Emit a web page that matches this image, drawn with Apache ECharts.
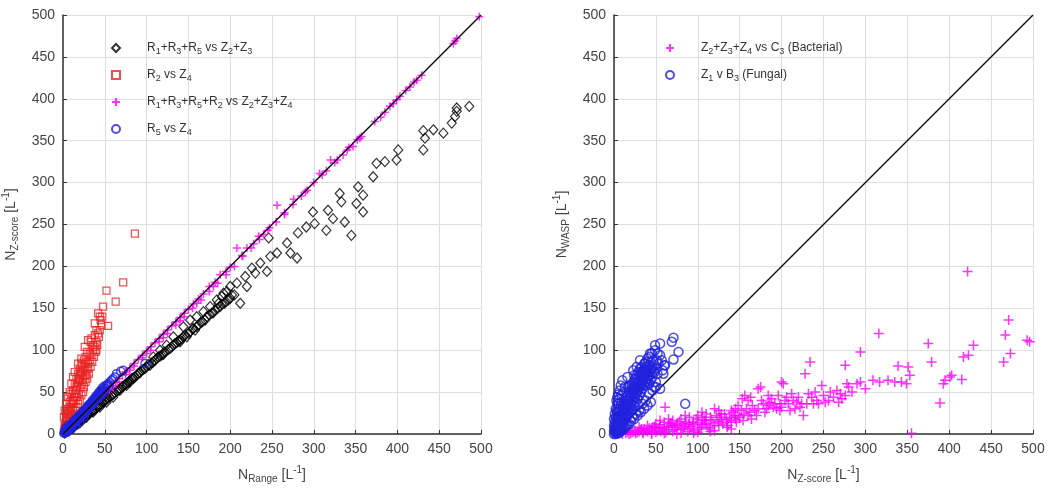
<!DOCTYPE html>
<html>
<head>
<meta charset="utf-8">
<script src="https://cdn.jsdelivr.net/npm/echarts@6/dist/echarts.min.js"></script>
<style>
  html, body { margin: 0; padding: 0; background: #fff; }
  #show { width: 1048px; height: 495px; }
</style>
</head>
<body>
<div id="show"></div>
<script>
// tick values shared by both panels
var ticks = [0, 50, 100, 150, 200, 250, 300, 350, 400, 450, 500];
var diag = [[0, 0], [500, 500]];

// left panel: R1+R3+R5 vs Z2+Z3 (black diamonds)
var diamondPts = [
  [2,1],[4,3],[6,4],[8,6],[10,8],[12,9],[14,11],[16,12],[18,14],[20,16],[22,17],[24,19],[27,21],[30,24],
  [33,26],[36,28],[39,31],[42,33],[45,36],[48,38],[51,41],[54,43],[58,46],[62,49],[66,52],[70,56],[74,59],
  [78,62],[82,66],[86,68],[90,72],[94,76],[98,78],[102,83],[106,85],[110,88],[114,92],[118,94],[122,98],
  [126,101],[130,104],[134,108],[138,111],[142,114],[146,118],[150,120],[155,125],[160,128],[165,133],
  [170,136],[175,142],[180,145],[185,150],[190,155],[195,158],[200,162],[205,166],
  [60,44],[80,62],[100,80],[120,96],[140,112],[148,116],[156,126],[132,116],[124,106],[116,100],[108,92],
  [92,74],[84,66],[76,58],[68,52],[52,38],[44,32],[36,26],[28,20],[20,13],[12,7],
  [3,2],[5,4],[7,5],[9,7],[11,8],[13,10],[15,12],[17,13],[19,15],[21,17],[23,18],[25,20],[26,19],[29,23],
  [31,24],[35,27],[38,29],[41,32],[44,34],[47,37],[50,39],[53,42],[56,44],[60,47],[64,51],[68,54],[72,57],
  [76,60],[80,64],[84,67],[88,70],[92,73],[96,77],[104,82],[108,86],[112,90],[116,93],[120,95],[128,102],
  [132,106],[136,109],[140,110],[144,116],[152,122],[158,124],[162,130],[167,134],[172,140],[178,144],
  [182,148],[188,152],[193,156],[198,160],[202,166],[196,170],[190,164],[186,156],
  [144,128],[152,136],[160,140],[168,146],[176,152],[184,160],[192,168],[200,176],[208,180],[212,156],
  [218,188],[220,176],[226,198],[230,192],[236,204],[244,194],[246,234],[248,212],[256,216],[268,228],
  [272,216],[280,210],[281,240],[291,247],[299,265],[301,251],[315,243],[317,267],[323,257],[331,287],
  [333,277],[337,253],[345,237],[351,275],[353,295],[359,285],[359,265],[371,307],[375,323],[385,325],
  [399,327],[401,339],[431,339],[433,353],[431,362],[443,363],[455,359],[465,371],[469,379],[471,385],
  [471,389],[486,391]
];

// left panel: R2 vs Z4 (red squares)
var squarePts = [
  [86,239],[72,181],[52,171],[63,158],[48,152],[42,144],[44,140],[54,129],[38,132],[40,124],[38,118],
  [34,114],[30,112],[40,110],[26,104],[40,100],[22,90],[28,86],[18,84],[30,78],[14,74],[22,72],[28,70],
  [12,68],[20,64],[10,60],[16,56],[8,50],[14,48],[6,44],[12,40],[4,36],[8,32],[2,28],[6,24],[1,20],[4,16],
  [10,40],[16,48],[18,62],[24,76],[26,80],[20,70],[32,96],[36,106],[42,120],[3,10],[5,14],[7,20],[9,30],
  [11,36],[13,44],[15,52],[17,58],[19,66],[21,74],[23,82],[25,88],[27,92],[29,98],[33,110],[2,6],[1,3],
  [2,10],[3,14],[4,8],[4,20],[5,24],[6,12],[6,30],[7,26],[8,18],[8,38],[9,24],[10,28],[10,48],[11,22],
  [12,30],[12,52],[13,36],[14,28],[14,60],[15,40],[16,32],[16,66],[17,44],[18,36],[18,72],[19,48],[20,40],
  [20,78],[21,56],[22,46],[22,84],[23,60],[24,50],[24,66],[25,56],[26,70],[27,62],[28,76],[29,66],[30,84],
  [31,72],[32,88],[33,80],[34,94],[35,86],[36,100],[37,92],[38,104],[39,98],[41,106],[43,116],[44,124],
  [46,130],[45,136],[47,140]
];

// left panel: R1+R3+R5+R2 vs Z2+Z3+Z4 (magenta plus)
var plusPtsL = [
  [1,1],[3,3],[5,5],[7,7],[9,9],[11,11],[13,13],[15,15],[18,18],[21,21],[24,24],[27,27],[30,29],[33,32],
  [36,35],[39,38],[42,41],[45,44],[48,47],[51,50],[55,54],[59,58],[63,62],[67,66],[71,70],[75,74],[80,79],
  [85,84],[90,89],[95,94],[100,99],[105,104],[110,109],[115,114],[120,119],[125,124],[130,129],[135,134],
  [140,139],[145,144],[150,149],[156,155],[162,161],[168,167],[175,176],[182,181],[188,190],[195,194],
  [200,199],[208,222],[214,213],[220,222],[228,227],[234,236],[240,238],[247,246],[256,273],[265,264],
  [276,280],[285,284],[292,291],[300,300],[307,311],[315,314],[320,327],[328,327],[335,333],[342,342],
  [347,343],[352,351],[357,355],[373,373],[380,378],[391,391],[399,399],[403,403],[410,410],[420,420],
  [423,422],[429,428],[467,466],[469,469],[471,472],[498,498],
  [60,56],[80,76],[100,96],[120,115],[140,135],[160,156],[180,176],
  [20,19],[25,24],[35,33],[45,43],[55,52],[65,62],[75,71],[85,81],[95,91],[105,100],[115,110],[125,120],
  [135,130],[145,140],[155,150],[165,160],[175,170],[185,180],[195,190],[205,200],[215,212],[225,222],
  [235,232],[245,243],[255,253],[265,262],[275,274],[290,289],[310,309],[325,324],[340,339],[355,353],
  [385,384],[395,394],[415,414]
];

// left panel: R5 vs Z4 (blue circles)
var circlePtsL = [
  [1,1],[2,3],[3,2],[4,5],[5,4],[6,7],[7,6],[8,9],[9,8],[10,11],[11,10],[12,13],[13,14],[14,13],[15,16],
  [16,17],[17,16],[18,19],[19,20],[20,21],[21,20],[22,24],[23,22],[24,26],[25,25],[26,28],[27,27],[28,30],
  [29,31],[30,32],[31,33],[32,35],[33,34],[34,37],[35,38],[36,38],[37,40],[38,41],[39,42],[40,44],[41,43],
  [42,46],[43,47],[44,48],[45,50],[46,49],[47,52],[48,53],[50,55],[53,59],[55,57],[54,60],[64,72],[69,75],
  [72,76],[98,84],[5,2],[10,6],[15,10],[20,14],[25,20],[3,7],[6,10],
  [2,1],[3,4],[4,3],[5,7],[6,5],[7,9],[8,7],[9,11],[10,9],[11,13],[12,11],[13,16],[14,15],[15,14],[16,19],
  [17,18],[18,17],[19,22],[20,19],[21,23],[22,21],[23,26],[24,23],[25,28],[26,25],[27,30],[28,27],[29,33],
  [30,30],[31,35],[32,31],[33,37],[34,34],[35,40],[36,36],[37,42],[38,39],[39,45],[40,41],[41,47],[42,43],
  [43,50],[44,45],[45,52],[46,47],[47,55],[48,50],[49,57],[50,52],[52,58],[56,62],[60,66],[58,64],[62,68]
];

// right panel: Z2+Z3+Z4 vs C3 (magenta plus)
var plusPtsR = [
  [20,1],[24,3],[28,2],[32,5],[35,1],[38,4],[42,7],[45,2],[48,9],[52,4],[55,11],[58,6],[62,2],[65,9],
  [68,13],[72,5],[75,10],[78,15],[82,7],[85,12],[88,3],[92,9],[95,14],[98,18],[102,6],[105,11],[108,16],
  [112,8],[115,20],[118,13],[122,22],[125,10],[128,17],[132,24],[135,14],[138,20],[142,26],[145,18],
  [148,22],[152,28],[155,24],[158,30],[162,26],[165,34],[168,28],[170,22],[178,36],[182,30],[186,38],
  [190,32],[198,28],[61,32],[25,4],[33,6],[49,8],[69,10],[89,12],[105,20],[109,16],[120,30],[128,24],
  [140,28],[148,34],[156,46],[160,40],[172,54],[175,56],[184,46],[163,44],[153,42],[200,62],[228,72],
  [234,86],[294,98],[276,82],[339,81],[351,80],[353,70],[349,60],[375,108],[379,86],[429,106],[417,92],
  [423,94],[473,96],[465,86],[471,136],[467,118],[496,110],[493,112],[389,37],[355,1],[395,64],[403,70],
  [415,65],[393,60],[327,64],[335,62],[343,62],[309,64],[317,62],[300,54],[294,62],[290,60],[280,56],
  [278,60],[284,50],[276,46],[272,42],[268,38],[258,50],[248,58],[252,38],[242,40],[238,36],[202,60],
  [206,44],[214,40],[224,36],[226,22],[222,32],[200,32],[210,28],[198,36],[316,120],[422,194],[401,68],
  [10,0],[14,1],[16,2],[18,0],[22,2],[26,1],[30,3],[34,2],[36,6],[40,3],[44,5],[46,8],[50,2],[54,7],
  [56,3],[60,8],[63,5],[66,12],[70,3],[73,8],[76,12],[80,5],[84,9],[86,14],[90,6],[94,11],[96,4],[100,13],
  [104,8],[106,16],[110,12],[114,6],[116,17],[120,10],[124,15],[126,20],[130,12],[134,18],[136,10],
  [140,16],[144,22],[146,14],[150,20],[154,16],[160,22],[164,18],[30,8],[40,10],[50,12],[60,14],[70,16],
  [80,18],[90,20],[100,22],[110,24],[60,1],[80,1],[100,2],[120,4],[140,6],[45,0],[75,0],[95,1],[115,3],
  [135,8],[55,16],[65,18],[85,22],[105,26],[125,28],[145,30],
  [172,30],[176,40],[180,26],[184,34],[188,42],[192,36],[194,30],[196,46],[204,40],[208,36],[212,48],
  [216,30],[218,38],[220,44],[230,36],[232,48],[236,44],[240,50],[244,36],[250,46],[256,40],[262,44],
  [266,52],[270,48]
];

// right panel: Z1 v B3 (blue circles)
var circlePtsR = [
  [71,115],[69,110],[55,108],[49,106],[77,98],[43,96],[51,88],[71,89],[61,82],[37,84],[59,72],[55,54],
  [85,36],[17,56],[5,47],[1,2],[2,4],[3,3],[3,6],[4,8],[5,5],[5,10],[6,12],[7,8],[7,15],[8,18],[9,12],
  [9,20],[10,22],[10,14],[11,25],[12,16],[12,28],[13,20],[13,32],[14,18],[15,35],[15,24],[16,22],[16,38],
  [17,28],[18,40],[18,24],[19,32],[20,44],[20,28],[21,36],[22,48],[22,30],[23,40],[24,52],[24,34],[25,44],
  [26,56],[26,38],[27,48],[28,60],[28,42],[29,52],[30,64],[30,46],[31,56],[32,68],[32,50],[33,60],[34,72],
  [34,54],[35,64],[36,76],[36,58],[37,68],[38,78],[38,62],[39,72],[40,80],[40,66],[42,70],[42,60],[44,76],
  [44,64],[46,80],[46,68],[48,56],[48,74],[50,62],[52,72],[58,76],[60,82],[6,1],[8,3],[12,6],[16,10],
  [20,15],[24,18],[28,22],[32,26],[36,30],[40,34],[44,38],[0,0],[2,0],[4,1],[1,14],[2,20],[3,28],[4,36],
  [2,8],[0,10],
  [3,12],[4,18],[5,22],[6,26],[7,30],[8,34],[9,38],[6,18],[8,24],[10,30],[11,18],[12,36],[13,26],[14,40],
  [14,30],[15,44],[16,30],[17,46],[17,36],[18,50],[19,44],[20,52],[20,36],[21,58],[22,42],[22,54],[23,62],
  [24,46],[24,58],[25,66],[26,50],[26,62],[27,70],[28,54],[28,66],[29,74],[30,58],[30,70],[31,78],[32,62],
  [32,74],[33,80],[34,66],[34,58],[35,76],[36,70],[36,84],[37,62],[38,74],[38,86],[39,66],[40,76],[40,90],
  [41,70],[42,82],[42,92],[43,74],[44,86],[45,78],[45,96],[46,74],[47,88],[48,82],[49,100],[50,78],[52,96],
  [53,84],[55,94],[57,88],[10,8],[14,10],[18,12],[22,20],[26,24],[30,28],[34,36],[38,40],[42,48],[46,52],
  [50,56],[13,8],[9,5],[5,3],[7,4],[3,1],[1,5],[0,4],[1,8],[2,12],[0,18],[3,20],[4,26],[1,24],[2,30],
  [5,36],[3,40],[6,42],[7,52],[9,46],[11,50],[13,56],[8,58],[4,44],[10,64],[19,58],[24,70],[27,80],[31,88],
  [16,68],[23,76]
];

var names = {
  d: 'R_1+R_3+R_5 vs Z_2+Z_3',
  s: 'R_2 vs Z_4',
  pl: 'R_1+R_3+R_5+R_2 vs Z_2+Z_3+Z_4',
  cl: 'R_5 vs Z_4',
  pr: 'Z_2+Z_3+Z_4 vs C_3 (Bacterial)',
  cr: 'Z_1 v B_3 (Fungal)'
};

function subs(str) {
  return '{m|' + str.replace(/_(\w)/g, '}{s|$1}{m|') + '}';
}

var FONT = 'Liberation Sans, Arial, sans-serif';
var PLUS = 'path://M0,5L10,5M5,0L5,10';

var legendRich = {
  m: { fontSize: 12, lineHeight: 14, color: '#333', fontFamily: FONT },
  s: { fontSize: 9, lineHeight: 10, color: '#333', fontFamily: FONT, padding: [7, 0, 0, 0] }
};
var nameRich = {
  m: { fontSize: 14, lineHeight: 18, color: '#444', fontFamily: FONT },
  s: { fontSize: 10, lineHeight: 12, color: '#444', fontFamily: FONT, padding: [9, 0, 0, 0] },
  u: { fontSize: 10, lineHeight: 12, color: '#444', fontFamily: FONT, padding: [0, 0, 9, 0] }
};

function axis(gi, name, isX) {
  return {
    type: 'value', gridIndex: gi, min: 0, max: 500, interval: 50,
    name: name, nameLocation: 'middle', nameGap: isX ? 32 : 43,
    nameTextStyle: { rich: nameRich },
    axisLine: { show: true, onZero: false, lineStyle: { color: '#333', width: 1.5 } },
    axisTick: { show: true, inside: true, length: 4, lineStyle: { color: '#333' } },
    axisLabel: { color: '#444', fontSize: 14, fontFamily: FONT, margin: 8 },
    splitLine: { show: true, lineStyle: { color: '#dedede', width: 1 } }
  };
}

function scatter(name, xi, data, symbol, size, color, bw) {
  return {
    type: 'scatter', name: name, xAxisIndex: xi, yAxisIndex: xi, data: data,
    symbol: symbol, symbolSize: size, animation: false,
    itemStyle: { color: 'rgba(0,0,0,0)', borderColor: color, borderWidth: bw }
  };
}

function legend(left, list) {
  return {
    left: left, top: 35, orient: 'vertical', itemGap: 11, itemWidth: 8, itemHeight: 8,
    data: list,
    formatter: function (n) { return subs(n); },
    textStyle: { rich: legendRich, padding: [0, 0, 0, 22] }
  };
}

var myChart = echarts.init(document.getElementById('show'), null, { renderer: 'canvas' });
var option = {
  backgroundColor: '#fff',
  animation: false,
  legend: [
    legend(106, [names.d, names.s, names.pl, names.cl]),
    legend(660, [names.pr, names.cr])
  ],
  grid: [
    { left: 63, top: 15, width: 418, height: 419 },
    { left: 614, top: 15, width: 419, height: 419 }
  ],
  xAxis: [
    axis(0, '{m|N}{s|Range}{m| [L}{u|-1}{m|]}', true),
    axis(1, '{m|N}{s|Z-score}{m| [L}{u|-1}{m|]}', true)
  ],
  yAxis: [
    axis(0, '{m|N}{s|Z-score}{m| [L}{u|-1}{m|]}', false),
    axis(1, '{m|N}{s|WASP}{m| [L}{u|-1}{m|]}', false)
  ],
  series: [
    scatter(names.d, 0, diamondPts, 'diamond', [9, 10], '#000', 1.2),
    scatter(names.s, 0, squarePts, 'rect', 7, '#e82222', 1.2),
    scatter(names.pl, 0, plusPtsL, PLUS, 8, '#ff00ff', 1.5),
    scatter(names.cl, 0, circlePtsL, 'circle', 8, '#2222dd', 1.5),
    { type: 'line', xAxisIndex: 0, yAxisIndex: 0, data: diag, symbol: 'none', silent: true,
      lineStyle: { color: '#111', width: 1.5 }, z: 3 },
    scatter(names.pr, 1, plusPtsR, PLUS, 10, '#ff00ff', 1.5),
    scatter(names.cr, 1, circlePtsR, 'circle', 9, '#2222dd', 1.5),
    { type: 'line', xAxisIndex: 1, yAxisIndex: 1, data: diag, symbol: 'none', silent: true,
      lineStyle: { color: '#111', width: 1.5 }, z: 1 }
  ]
};
myChart.setOption(option);
</script>
</body>
</html>
